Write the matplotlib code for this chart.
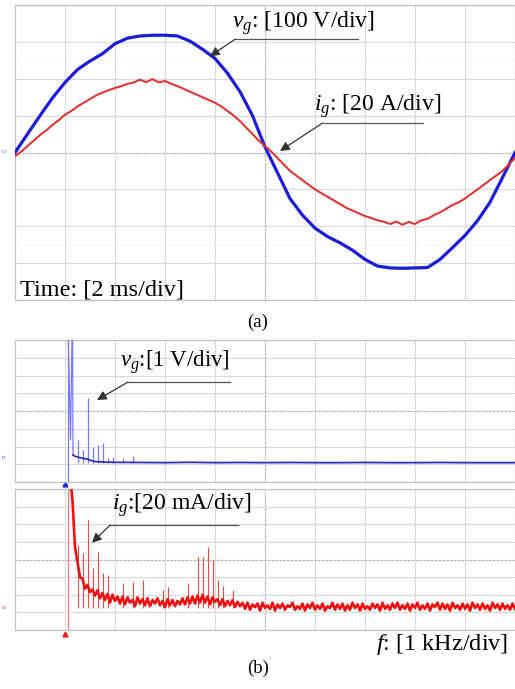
import numpy as np
import matplotlib.pyplot as plt

plt.rcParams['font.family'] = 'Liberation Serif'
plt.rcParams['mathtext.fontset'] = 'custom'
plt.rcParams['mathtext.rm'] = 'Liberation Serif'
plt.rcParams['mathtext.it'] = 'Liberation Serif:italic'

# ---- (a) grid voltage / current (t in ms) ----
t_vg = np.arange(0, 20.01, 0.5)
vg = [0, 50, 100, 148, 190, 225, 248, 268, 295, 310,
      316, 318, 318, 316, 302, 280, 255, 215, 165, 100,
      15, -55, -125, -170, -205, -228, -245, -265, -290, -308,
      -313, -314, -313, -312, -290, -258, -225, -185, -135, -68,
      0]

t_ig = np.arange(0, 20.01, 0.25)
ig = [-2.0, 0.5, 3.5, 6.5, 9.5, 12.0, 15.0, 17.5, 20.5, 22.5,
      25.0, 27.0, 29.0, 31.0, 32.5, 33.8, 35.0, 36.0, 37.2, 38.0,
      39.5, 38.2, 39.8, 38.0, 38.8, 37.2, 36.0, 34.5, 33.0, 31.5,
      30.0, 28.5, 27.0, 25.0, 22.5, 20.0, 17.0, 13.5, 10.0, 6.5,
      3.5, 0.5, -3.0, -6.5, -10.0, -12.5, -15.0, -17.5, -20.0, -22.0,
      -24.0, -26.0, -28.0, -30.0, -31.5, -33.0, -34.5, -35.5, -36.8, -37.5,
      -38.8, -37.5, -39.2, -37.6, -38.8, -36.8, -36.0, -34.0, -32.5, -30.5,
      -28.5, -27.0, -25.0, -22.5, -20.0, -17.5, -15.0, -12.5, -10.0, -6.5,
      -3.0]

# ---- (b) spectra (f in kHz) ----
fund_f = 0.05
vg_lead_f = [0.05, 0.11, 0.15, 0.16]
vg_lead_v = [9.0, 1.3, 9.0, 0.45]
vg_floor_f = [0.16, 0.2, 0.25, 0.3, 0.35, 0.4, 0.45, 0.5, 0.6, 0.8,
              1.0, 1.5, 2.0, 2.5, 3.0, 3.5, 4.0, 4.5, 5.0, 5.5, 6.0, 6.5, 7.0, 7.5,
              8.0, 8.5, 9.0]
vg_floor_v = [0.45, 0.38, 0.34, 0.30, 0.27, 0.24, 0.22, 0.16, 0.08, 0.05,
              0.04, 0.03, 0.02, 0.04, 0.02, 0.03, 0.02, 0.03, 0.02, 0.02, 0.03, 0.02, 0.02, 0.03,
              0.02, 0.02, 0.02]
vg_harm_f = [0.25, 0.35, 0.45, 0.55, 0.65, 0.75, 0.85, 0.95, 1.15, 1.35]
vg_harm_v = [1.3, 0.75, 3.66, 0.9, 1.0, 1.13, 0.3, 0.35, 0.3, 0.4]

ig_floor = [122, 69, 52, 35, 33, 22, 26, 18, 21, 14,
            20, 11, 17, 9, 16, 6, 15, 8, 13, 5,
            13, 4, 12, 6, 9, 2, 12, 5, 10, 3,
            11, 2, 9, 5, 11, 3, 8, 1, 10, 3,
            9, 2, 8, 4, 11, 4, 12, 5, 13, 5,
            14, 6, 15, 6, 13, 4, 12, 7, 10, 3,
            10, 2, 8, 3, 9, 1, 7, 2, 6, -1,
            6, -2, 4, 1, 5, -3, 6, 0, 3, -1,
            6, -3, 4, 0, 5, -2, 3, 1, 6, -2,
            2, -1, 5, -3, 4, 0, 6, -2, 3, -1,
            5, -3, 2, 0, 6, -2, 4, -1, 5, -3,
            3, -2, 6, 0, 4, -3, 5, -1, 2, -2,
            5, 0, 4, -3, 6, -1, 3, -2, 5, 0,
            6, -2, 3, -1, 5, -3, 4, 0, 6, -2,
            3, -1, 5, -3, 4, 1, 6, -2, 5, -1,
            4, -3, 6, 0, 3, -2, 5, -1, 4, -3,
            6, 0, 4, -2, 5, -1, 3, -3, 6, 0,
            4, -2, 5, -1, 3, -2, 5, -1]
ig_floor_f = 0.15 + 0.05 * np.arange(len(ig_floor))
ig_harm_f = [0.25, 0.35, 0.45, 0.55, 0.65, 0.75, 0.85, 1.15, 1.35, 1.55,
             1.95, 2.05, 2.45, 2.65, 2.75, 2.85, 2.95, 3.05, 3.15, 3.35]
ig_harm_v = [72, 62, 100, 45, 63, 40, 37, 28, 29, 32,
             20, 24, 28, 58, 58, 69, 55, 32, 25, 20]

W, H = 515, 689
fig = plt.figure(figsize=(W / 100, H / 100), dpi=100)


def box(x0, y0, x1, y1):
    return fig.add_axes([x0 / W, 1 - y1 / H, (x1 - x0) / W, (y1 - y0) / H])


def scope_grid(ax, xt, yt, xc, yc):
    ax.set_xticks(xt)
    ax.set_yticks(yt)
    ax.tick_params(length=0, labelbottom=False, labelleft=False)
    ax.grid(True, color='#dadada', lw=0.8)
    ax.axvline(xc, color='#9a9a9a', lw=0.8, ls=(0, (1, 2.5)), zorder=1)
    ax.axhline(yc, color='#9a9a9a', lw=0.8, ls=(0, (1, 2.5)), zorder=1)
    for s in ax.spines.values():
        s.set_color('#c4c4c4')
        s.set_linewidth(0.9)
    ax.set_axisbelow(True)


def leader(ax, tip, tail, end):
    ax.annotate('', xy=tip, xytext=tail,
                arrowprops=dict(arrowstyle='-|>', color='#333333', lw=0.9,
                                mutation_scale=14, shrinkA=0, shrinkB=0))
    ax.plot([tail[0], end], [tail[1], tail[1]], color='#555555', lw=0.9, clip_on=False)


# (a)
ax = box(15, 5, 515, 300)
ax.set_xlim(0, 20)
ax.set_ylim(-400, 400)
scope_grid(ax, np.arange(0, 21, 2), np.arange(-400, 401, 100), 10, 0)
for yy in (-250, 250):
    ax.axhline(yy, color='#e4e4e4', lw=0.7, ls=(0, (1, 3)))
ax.plot(t_vg, vg, color='#1c1cd8', lw=2.3, zorder=3)
ax2 = ax.twinx()
ax2.set_ylim(-80, 80)
ax2.axis('off')
ax2.plot(t_ig, ig, color='#e03535', lw=1.5, zorder=4)

leader(ax, (7.8, 261), (8.8, 307), 13.7)
ax.text(8.7, 352, r'$v_g$: [100 V/div]', fontsize=17, va='center', ha='left')
leader(ax, (10.6, 4), (12.3, 80), 16.3)
ax.text(11.95, 126, r'$i_g$: [20 A/div]', fontsize=17, va='center', ha='left')
ax.text(0.2, -372, 'Time: [2 ms/div]', fontsize=17.5, va='center', ha='left')

fig.text(258 / W, 1 - 322 / H, '(a)', fontsize=13.5, ha='center', va='center')

# (b) top: grid voltage spectrum
bv = box(15, 340, 515, 482)
bv.set_xlim(-1, 9)
bv.set_ylim(-1.07, 6.93)
scope_grid(bv, np.arange(-1, 10, 1), -1.07 + np.arange(9), 4, 2.93)
bv.vlines(fund_f, -1.07, 6.93, color='#7a7af2', lw=0.9, zorder=3)
bv.plot(vg_lead_f, vg_lead_v, color='#7a7af2', lw=0.9, zorder=3)
bv.vlines(vg_harm_f, 0, vg_harm_v, color='#7a7af2', lw=0.9, zorder=3)
bv.plot(vg_floor_f, vg_floor_v, color='#3030b0', lw=1.3, zorder=4)
bv.plot([0], [-1.2], marker='^', ms=3.5, color='#2a2ad0', clip_on=False)
leader(bv, (0.64, 3.55), (1.26, 4.56), 3.3)
bv.text(1.1, 5.7, r'$v_g$:[1 V/div]', fontsize=16.5, va='center', ha='left')

# (b) bottom: grid current spectrum
bi = box(15, 489, 515, 630)
bi.set_xlim(-1, 9)
bi.set_ylim(-25, 135)
scope_grid(bi, np.arange(-1, 10, 1), np.arange(-25, 136, 20), 4, 55)
bi.vlines(fund_f, -25, 135, color='#f07a7a', lw=0.9, zorder=3)
bi.vlines(ig_harm_f, 0, ig_harm_v, color='#f04848', lw=0.8, zorder=3)
bi.plot(np.r_[0.13, ig_floor_f], np.r_[134, ig_floor], color='#ee1010', lw=1.9, zorder=4)
bi.plot([0], [-29.5], marker='^', ms=3.5, color='#e02020', clip_on=False)
leader(bi, (0.54, 74), (0.9, 94), 3.46)
bi.text(0.94, 117, r'$i_g$:[20 mA/div]', fontsize=17, va='center', ha='left')
bi.text(8.86, -42, r'$f$: [1 kHz/div]', fontsize=17.5, va='center', ha='right')

fig.text(258 / W, 1 - 668 / H, '(b)', fontsize=13.5, ha='center', va='center')

# small channel tags at the left edge of the screens
fig.text(2 / W, 1 - 152 / H, 'C2', fontsize=3.5, color='#4040d0', va='center')
fig.text(2 / W, 1 - 458 / H, 'F1', fontsize=3.5, color='#4040d0', va='center')
fig.text(2 / W, 1 - 608 / H, 'F2', fontsize=3.5, color='#e03030', va='center')

fig.savefig('out.png', dpi=100)
